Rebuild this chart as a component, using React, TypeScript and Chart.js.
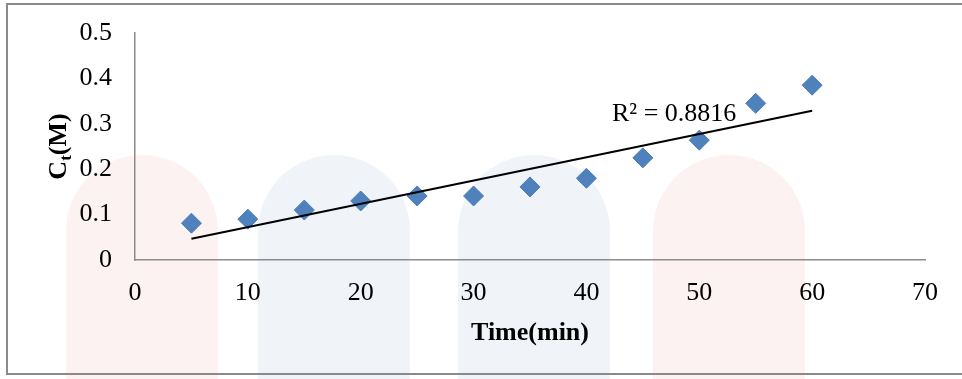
import React, { useEffect, useRef } from "react";
import { Chart, registerables } from "chart.js";

Chart.register(...registerables);

const timeMin = [5, 10, 15, 20, 25, 30, 35, 40, 45, 50, 55, 60];
const ctMolar = [0.081, 0.09, 0.11, 0.13, 0.141, 0.141, 0.161, 0.18, 0.225, 0.264, 0.345, 0.385];
const xTickMin = 0;
const xTickMax = 70;
const xTickStep = 10;
const yTickMin = 0;
const yTickMax = 0.5;
const yTickStep = 0.1;
const r2Label = "R² = 0.8816";
const xTitle = "Time(min)";

const FONT = "'Liberation Serif', 'Times New Roman', serif";

function regression(xs: number[], ys: number[]) {
  const n = xs.length;
  const mx = xs.reduce((a, b) => a + b, 0) / n;
  const my = ys.reduce((a, b) => a + b, 0) / n;
  let sxy = 0;
  let sxx = 0;
  for (let i = 0; i < n; i++) {
    sxy += (xs[i] - mx) * (ys[i] - my);
    sxx += (xs[i] - mx) * (xs[i] - mx);
  }
  const slope = sxy / sxx;
  return { slope, intercept: my - slope * mx };
}

export default function App() {
  const ref = useRef<HTMLCanvasElement | null>(null);

  useEffect(() => {
    if (!ref.current) return;
    const { slope, intercept } = regression(timeMin, ctMolar);
    const x0 = timeMin[0];
    const x1 = timeMin[timeMin.length - 1];

    const titlePlugin = {
      id: "titles",
      afterDraw(chart: any) {
        const ctx = chart.ctx as CanvasRenderingContext2D;
        const area = chart.chartArea;
        ctx.save();
        ctx.fillStyle = "#000";
        ctx.font = `bold 26px ${FONT}`;
        ctx.textAlign = "center";
        ctx.textBaseline = "alphabetic";
        ctx.fillText(xTitle, (area.left + area.right) / 2, 340);
        const big = `bold 26px ${FONT}`;
        const small = `bold 17px ${FONT}`;
        ctx.font = big;
        const wC = ctx.measureText("C").width;
        const wM = ctx.measureText("(M)").width;
        ctx.font = small;
        const wt = ctx.measureText("t").width;
        const total = wC + wt + wM;
        const cy = (area.top + area.bottom) / 2;
        ctx.translate(66, cy + total / 2);
        ctx.rotate(-Math.PI / 2);
        ctx.textAlign = "left";
        ctx.font = big;
        ctx.fillText("C", 0, 0);
        ctx.font = small;
        ctx.fillText("t", wC, 5);
        ctx.font = big;
        ctx.fillText("(M)", wC + wt, 0);
        ctx.restore();
        ctx.save();
        ctx.fillStyle = "#000";
        ctx.font = `26px ${FONT}`;
        ctx.textAlign = "left";
        ctx.textBaseline = "alphabetic";
        ctx.fillText(r2Label, 612, 121);
        ctx.restore();
      },
    };

    const chart = new Chart(ref.current, {
      type: "scatter",
      data: {
        datasets: [
          {
            type: "line",
            label: "Trend",
            data: [
              { x: x0, y: slope * x0 + intercept },
              { x: x1, y: slope * x1 + intercept },
            ],
            borderColor: "#000",
            borderWidth: 2,
            pointRadius: 0,
            fill: false,
          } as any,
          {
            label: "Ct",
            data: timeMin.map((x, i) => ({ x, y: ctMolar[i] })),
            pointStyle: "rectRot",
            pointRadius: 10,
            pointHoverRadius: 10,
            backgroundColor: "#4f81bd",
            borderColor: "#4a7cb8",
            borderWidth: 1,
          },
        ],
      },
      options: {
        animation: false,
        responsive: false,
        layout: { padding: { top: 33, right: 37, left: 0, bottom: 0 } },
        plugins: { legend: { display: false }, tooltip: { enabled: false } },
        scales: {
          x: {
            type: "linear",
            min: xTickMin,
            max: xTickMax,
            grid: { display: false },
            border: { display: true, color: "#8c8c8c", width: 1.5 },
            ticks: {
              stepSize: xTickStep,
              color: "#000",
              font: { family: FONT, size: 26 },
              padding: 10,
              maxRotation: 0,
            },
            afterFit: (s: any) => {
              s.height = 119;
            },
          },
          y: {
            type: "linear",
            min: yTickMin,
            max: yTickMax,
            grid: { display: false },
            border: { display: true, color: "#8c8c8c", width: 1.5 },
            ticks: {
              stepSize: yTickStep,
              color: "#000",
              font: { family: FONT, size: 26 },
              padding: 15,
              callback: (v: any) => String(Number(Number(v).toFixed(1))),
            },
            afterFit: (s: any) => {
              s.width = 135;
            },
          },
        },
      },
      plugins: [titlePlugin],
    });
    return () => chart.destroy();
  }, []);

  const arch = (left: number, color: string) => (
    <div
      style={{
        position: "absolute",
        left,
        top: 155,
        width: 152,
        height: 300,
        background: color,
        borderTopLeftRadius: 76,
        borderTopRightRadius: 76,
      }}
    />
  );

  return (
    <div
      style={{
        position: "fixed",
        left: 0,
        top: 0,
        width: 962,
        height: 379,
        overflow: "hidden",
        background: "#fff",
      }}
    >
      {arch(66, "#fdf2f2")}
      {arch(258, "#f0f4f9")}
      {arch(458, "#f0f4f9")}
      {arch(653, "#fdf2f2")}
      <div
        style={{
          position: "absolute",
          left: 6,
          top: 3,
          width: 1000,
          height: 372,
          border: "2px solid #8a8a8a",
          boxSizing: "border-box",
        }}
      />
      <canvas
        ref={ref}
        width={962}
        height={379}
        style={{ position: "absolute", left: 0, top: 0, width: 962, height: 379 }}
      />
    </div>
  );
}
